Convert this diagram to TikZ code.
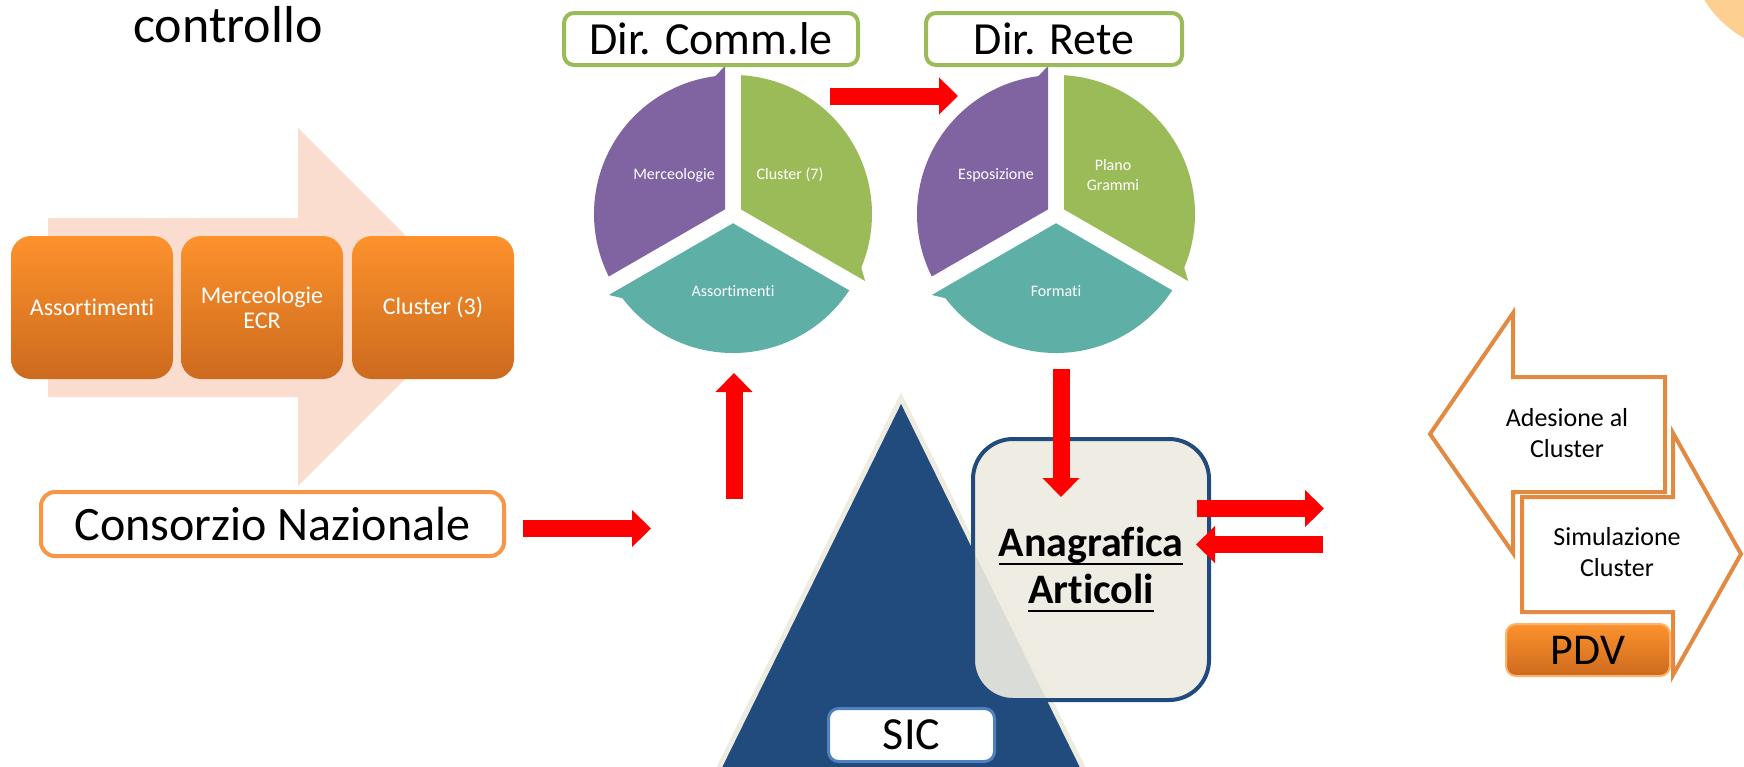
\documentclass[tikz,border=0pt]{standalone}
\usepackage{fontspec}
\setmainfont{Carlito}[Ligatures={NoCommon,NoContextual,NoRare,NoRequired},Contextuals=NoAlternate]
\usetikzlibrary{arrows.meta}
\definecolor{pinkbg}{RGB}{251,221,208}
\definecolor{orTop}{RGB}{253,146,44}
\definecolor{orBot}{RGB}{204,106,30}
\definecolor{cpurple}{RGB}{128,100,162}
\definecolor{cgreen}{RGB}{155,187,89}
\definecolor{cteal}{RGB}{94,175,166}
\definecolor{redA}{RGB}{255,0,0}
\definecolor{sicblue}{RGB}{33,74,125}
\definecolor{beige}{RGB}{238,236,225}
\definecolor{boxblue}{RGB}{79,129,189}
\definecolor{consor}{RGB}{247,150,70}
\definecolor{dbl}{RGB}{226,138,66}
\definecolor{blob}{RGB}{253,207,145}
\newcommand\myul[1]{\setbox0\hbox{#1}\rlap{\rule[-4.5pt]{\wd0}{1.25pt}}\box0}
\tikzset{
  obox/.style={rounded corners=10pt, top color=orTop, bottom color=orBot, text=white,
    font=\fontsize{12}{12.5}\selectfont, align=center, minimum width=81pt,
    minimum height=71.5pt, inner sep=0pt},
  redarr/.style={draw=redA, line width=8.5pt, -{Triangle[length=9.5pt,width=18pt]}},
  dirbox/.style={draw=cgreen, line width=2pt, fill=white, rounded corners=5pt,
    minimum height=26pt, inner sep=0pt, font=\fontsize{23}{27}\selectfont},
  segtext/.style={text=white, font=\fontsize{8}{9.5}\selectfont, align=center},
  dblarrow/.style={draw=dbl, line width=2pt, fill=white, line join=miter},
  dbltext/.style={font=\fontsize{13}{15.5}\selectfont, align=center},
}
\begin{document}
\begin{tikzpicture}[x=0.5pt,y=-0.5pt]
\useasboundingbox (0,0) rectangle (1744,766);
\fill[white] (0,0) rectangle (1744,766);

% corner blob
\fill[blob] (1800,-60) circle[radius=113];

% title
\node[anchor=base, font=\fontsize{26}{30}\selectfont, inner sep=0pt] (title) at (228,42) {controllo};

% pink background arrow
\fill[pinkbg] (48,218) -- (298,218) -- (298,128) -- (477,307) -- (298,486) -- (298,397) -- (48,397) -- cycle;

% orange boxes
\node[obox] (b1) at (92,307.5) {Assortimenti};
\node[obox] (b2) at (262,307.5) {Merceologie\\ECR};
\node[obox] (b3) at (433,307.5) {Cluster (3)};

% Consorzio
\node[draw=consor, line width=2pt, rounded corners=7pt, fill=white, minimum width=231.5pt,
  minimum height=32pt, inner sep=0pt, font=\fontsize{24}{28}\selectfont] (cons) at (272.5,524) {Consorzio Nazionale};

% cycles
\foreach \cx in {733,1056}{
\begin{scope}[shift={(\cx,214)}, yscale=-1]
  \fill[cpurple] (150:9.24) -- ([shift={(120:8)}]210:138.8)
     arc[start angle=206.7, end angle=97.3, radius=139]
     -- ([shift={(180:8)}]90:148) -- cycle;
  \fill[cgreen] (30:9.24) -- ([shift={(0:8)}]90:138.8)
     arc[start angle=86.7, end angle=-22.7, radius=139]
     -- ([shift={(60:8)}]-30:148) -- cycle;
  \fill[cteal] (-90:9.24) -- ([shift={(-120:8)}]-30:138.8)
     arc[start angle=-33.3, end angle=-142.7, radius=139]
     -- ([shift={(-60:8)}]-150:148) -- cycle;
\end{scope}
}
\node[segtext] (s1) at (674,175) {Merceologie};
\node[segtext] (s2) at (790,175) {Cluster (7)};
\node[segtext] (s3) at (733,291) {Assortimenti};
\node[segtext] (s4) at (996,175) {Esposizione};
\node[segtext] (s5) at (1113,175) {Plano\\Grammi};
\node[segtext] (s6) at (1056,291) {Formati};

% direction boxes
\node[dirbox, minimum width=147pt] (dc) at (711,39) {Dir. Comm.le};
\node[dirbox, minimum width=128pt] (dr) at (1054,39) {Dir. Rete};

% SIC triangle
\draw[draw=beige, line width=2.5pt, fill=sicblue] (901,398) -- (1089,780) -- (713,780) -- cycle;
\node[draw=boxblue, line width=1.5pt, fill=white, rounded corners=5pt, minimum width=83pt,
  minimum height=26.5pt, inner sep=0pt, font=\fontsize{23}{27}\selectfont] (sic) at (911.5,735) {SIC};

% Anagrafica
\node[draw=sicblue, line width=2pt, fill=beige, fill opacity=0.9, text opacity=1,
  rounded corners=20pt, minimum width=118pt, minimum height=130.5pt, inner sep=0pt,
  align=center, font=\bfseries\fontsize{21}{23.5}\selectfont] (ana) at (1091,569.5)
  {\myul{Anagrafica}\\\myul{Articoli}};

% red arrows
\coordinate (r1s) at (523,528.5);  \coordinate (r1e) at (651,528.5);
\coordinate (r2s) at (830,96);     \coordinate (r2e) at (958,96);
\coordinate (r3s) at (734,499);    \coordinate (r3e) at (734,373);
\coordinate (r4s) at (1061,369);   \coordinate (r4e) at (1061,497);
\coordinate (r5s) at (1197,508.5); \coordinate (r5e) at (1324,508.5);
\coordinate (r6s) at (1323,544.5); \coordinate (r6e) at (1196,544.5);
\draw[redarr] (r1s) -- (r1e);
\draw[redarr] (r2s) -- (r2e);
\draw[redarr] (r3s) -- (r3e);
\draw[redarr] (r4s) -- (r4e);
\draw[redarr] (r5s) -- (r5e);
\draw[redarr] (r6s) -- (r6e);

% double arrows
\draw[dblarrow] (1430,434) -- (1513,313) -- (1513,377) -- (1665,377) -- (1665,492) -- (1513,492) -- (1513,553) -- cycle;
\draw[dblarrow] (1522,497) -- (1673,497) -- (1673,433) -- (1741,554) -- (1673,675) -- (1673,612) -- (1522,612) -- cycle;
\node[dbltext] (ad) at (1567,433) {Adesione al\\Cluster};
\node[dbltext] (sim) at (1617,552) {Simulazione\\Cluster};

% PDV
\node[draw=orTop!70!white, line width=1pt, rounded corners=5pt, top color=orTop, bottom color=orBot,
  minimum width=82pt, minimum height=26pt, inner sep=0pt, font=\fontsize{22}{26}\selectfont] (pdv) at (1588,650) {PDV};
\end{tikzpicture}
\end{document}
